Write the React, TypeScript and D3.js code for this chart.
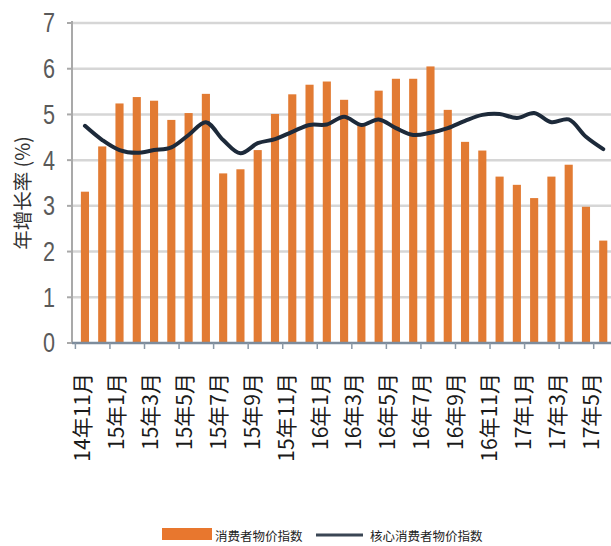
import React from "react";
import * as d3 from "d3";

const months: string[] = [
  "14年11月","14年12月","15年1月","15年2月","15年3月","15年4月","15年5月","15年6月",
  "15年7月","15年8月","15年9月","15年10月","15年11月","15年12月","16年1月","16年2月",
  "16年3月","16年4月","16年5月","16年6月","16年7月","16年8月","16年9月","16年10月",
  "16年11月","16年12月","17年1月","17年2月","17年3月","17年4月","17年5月",
];
const cpi: number[] = [
  3.31, 4.30, 5.24, 5.38, 5.30, 4.88, 5.03, 5.45,
  3.71, 3.80, 4.22, 5.01, 5.44, 5.65, 5.72, 5.32,
  4.81, 5.52, 5.78, 5.78, 6.05, 5.10, 4.40, 4.21,
  3.64, 3.46, 3.17, 3.64, 3.90, 2.98, 2.24,
];
const coreCpi: number[] = [
  4.75, 4.44, 4.22, 4.16, 4.22, 4.28, 4.55, 4.83,
  4.44, 4.15, 4.37, 4.46, 4.62, 4.77, 4.78, 4.95,
  4.77, 4.89, 4.70, 4.55, 4.60, 4.70, 4.86, 4.99,
  5.01, 4.92, 5.03, 4.83, 4.89, 4.51, 4.24,
];
const yTicks: number[] = [0, 1, 2, 3, 4, 5, 6, 7];
const yTitle = "年增长率 (%)";
const legendBar = "消费者物价指数";
const legendLine = "核心消费者物价指数";

const W = 611;
const H = 546;
const axisX = 72;

export default function App() {
  const x = d3.scaleBand<string>().domain(months).range([76.4, 611.8]).paddingInner(0.53).paddingOuter(0.26);
  const y = d3.scaleLinear().domain([0, 7]).range([343, 23]);
  const step = x.step();
  const xStart = 76.4;
  const labelMonths = months.filter((_, i) => i % 2 === 0);
  const xl = d3.scalePoint<string>().domain(labelMonths).range([81, 590]);
  const center = (m: string) => (x(m) as number) + x.bandwidth() / 2;
  const line = d3
    .line<number>()
    .x((_, i) => center(months[i]))
    .y((d) => y(d))
    .curve(d3.curveCatmullRom.alpha(0.5));

  const cjk = "'Noto Sans CJK SC', 'Noto Sans', sans-serif";
  return (
    <svg
      width={W}
      height={H}
      style={{ position: "fixed", left: 0, top: 0, background: "#fff" }}
    >
      {yTicks.slice(1).map((t) => (
        <line key={"g" + t} x1={axisX} x2={W} y1={y(t)} y2={y(t)} stroke="#d6d6d6" strokeWidth={2.5} />
      ))}
      <line x1={axisX} x2={axisX} y1={y(7) - 2} y2={y(0)} stroke="#a9a9a9" strokeWidth={2} />
      {yTicks.map((t) => (
        <line key={"yt" + t} x1={axisX - 5} x2={axisX} y1={y(t)} y2={y(t)} stroke="#a9a9a9" strokeWidth={2} />
      ))}
      {yTicks.map((t) => (
        <g key={"yl" + t} transform={`translate(55,${y(t)}) scale(0.8,1)`}>
          <text
            textAnchor="end"
            dominantBaseline="central"
            fontFamily="'Liberation Sans', Arial, sans-serif"
            fontSize={27}
            fill="#5a5a5a"
          >
            {t}
          </text>
        </g>
      ))}
      <text
        transform={`translate(21,193) rotate(-90)`}
        textAnchor="middle"
        dominantBaseline="central"
        fontFamily={cjk}
        fontSize={19.5}
        fill="#333"
      >
        {yTitle}
      </text>
      {cpi.map((v, i) => (
        <rect
          key={"b" + i}
          x={x(months[i])}
          width={x.bandwidth()}
          y={y(v)}
          height={y(0) - y(v)}
          fill="#e27b33"
        />
      ))}
      <line x1={axisX} x2={W} y1={y(0)} y2={y(0)} stroke="#7d8c9c" strokeWidth={2.5} />
      {months.map((m, i) =>
        i % 2 === 0 ? (
          <line
            key={"xt" + i}
            x1={xStart + i * step - 1}
            x2={xStart + i * step - 1}
            y1={y(0)}
            y2={y(0) + 6}
            stroke="#8a98a6"
            strokeWidth={1.5}
          />
        ) : null
      )}
      {labelMonths.map((m) => (
        <text
          key={"xl" + m}
          transform={`translate(${xl(m)},373) rotate(-90)`}
          textAnchor="end"
          dominantBaseline="central"
          fontFamily={cjk}
          fontSize={21}
          fill="#1a1a1a"
        >
          {m}
        </text>
      ))}
      <path d={line(coreCpi) || ""} fill="none" stroke="#1d2a3a" strokeWidth={4} strokeLinejoin="round" strokeLinecap="round" />
      <rect x={162} y={528} width={50} height={12} fill="#e8772e" />
      <text x={215} y={535} dominantBaseline="central" fontFamily={cjk} fontSize={12.5} fill="#222">
        {legendBar}
      </text>
      <line x1={316} x2={363} y1={535} y2={535} stroke="#3a4654" strokeWidth={3} />
      <text x={370} y={535} dominantBaseline="central" fontFamily={cjk} fontSize={12.5} fill="#222">
        {legendLine}
      </text>
    </svg>
  );
}
